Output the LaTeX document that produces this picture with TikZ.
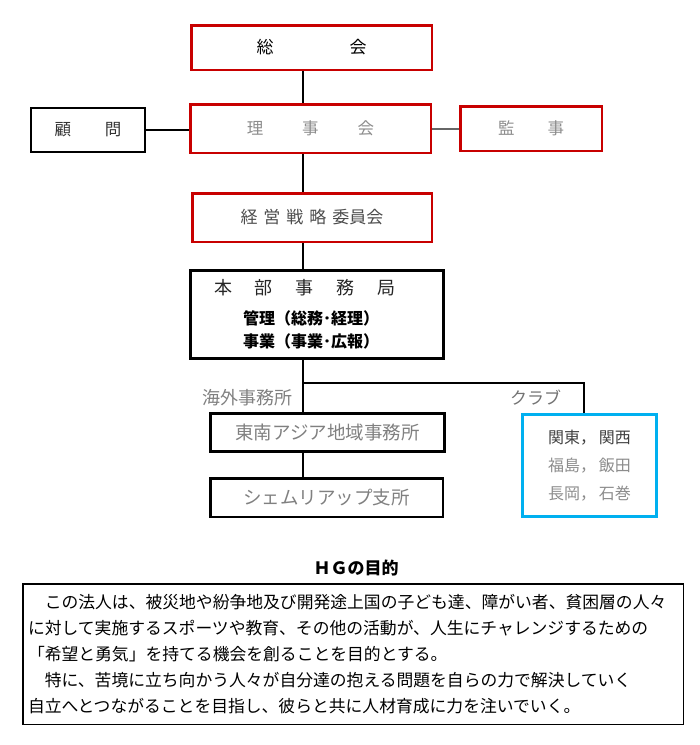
\documentclass[tikz,border=0pt]{standalone}
\usepackage{fontspec}
\setmainfont{Noto Sans CJK JP}
\usetikzlibrary{positioning}
\definecolor{hgred}{RGB}{200,0,0}
\definecolor{hgblue}{RGB}{0,176,240}
\newcommand{\hgsize}[2]{\fontsize{#1}{#2}\selectfont}

\begin{document}
\begin{tikzpicture}[
  x=1pt, y=-1pt,
  box/.style={draw, inner sep=0pt, align=center, font=\hgsize{17pt}{20pt}},
  redbox/.style={box, draw=hgred, line width=2.5pt},
  blkbox/.style={box, draw=black, line width=2.5pt},
  bluebox/.style={box, draw=hgblue, line width=3pt},
  lbl/.style={inner sep=0pt, font=\hgsize{17pt}{20pt}, text=black!50},
  conn/.style={draw=black, line width=1.5pt},
]
\useasboundingbox (0,0) rectangle (700,745);

% governance
\node[redbox, minimum width=240.5pt, minimum height=44.5pt] (soukai) at (311.5,47.5)
  {総\hspace{76pt}会};
\node[redbox, minimum width=240.5pt, minimum height=48.5pt, text=black!45,
  font=\hgsize{16.5pt}{20pt}] (riji) at (310.5,128.5)
  {理\hspace{39pt}事\hspace{39pt}会};
\node[blkbox, line width=2pt, minimum width=114pt, minimum height=44pt,
  text=black!80, font=\hgsize{16.5pt}{20pt}] (komon) at (88,130) {顧\hspace{34pt}問};
\node[redbox, minimum width=141.5pt, minimum height=44.5pt, text=black!45,
  font=\hgsize{16.5pt}{20pt}] (kanji) at (531,128.5) {監\hspace{33pt}事};
\node[redbox, minimum width=239.5pt, minimum height=48.5pt, text=black!70] (keiei) at (312,217.5)
  {経\hspace{6pt}営\hspace{6pt}戦\hspace{6pt}略\hspace{6pt}委員会};

% office
\node[blkbox, line width=3pt, minimum width=253pt, minimum height=88pt,
  font=\hgsize{16pt}{23pt}\bfseries] (honbu) at (317,314.5)
  {\textmd{\hgsize{18pt}{20pt}\color{black!85}本\hspace{23pt}部\hspace{23pt}事\hspace{23pt}務\hspace{23pt}局}\makebox[24pt]{}\\[7pt]
   管理（総務･経理）\makebox[12pt]{}\\事業（事業･広報）\makebox[12pt]{}};
\node[blkbox, line width=3pt, minimum width=234pt, minimum height=38pt,
  text=black!50, font=\hgsize{18.5pt}{20pt}] (asia) at (327.5,432.5) {東南アジア地域事務所};
\node[blkbox, minimum width=232.5pt, minimum height=38.5pt,
  text=black!50, font=\hgsize{18.5pt}{20pt}] (siem) at (326.5,497.5) {シェムリアップ支所};
\node[bluebox, minimum width=134pt, minimum height=102pt, align=left,
  text=black!45, font=\hgsize{16pt}{28pt}] (club) at (589.5,465.5)
  {\textcolor{black!75}{関東，\,関西}\\福島，\,飯田\\長岡，\,石巻};

\node[lbl, font=\hgsize{18pt}{20pt}] (overseas) at (247,398) {海外事務所};
\node[lbl, text=black!55] (clublbl) at (535.5,398) {クラブ};

% connectors
\coordinate (spine) at (303,0);
\coordinate (fork) at (303,383);
\coordinate (clubdrop) at (584,383);
\draw[conn] (soukai.south -| spine) -- (riji.north -| spine);
\draw[conn] (riji.south -| spine) -- (keiei.north -| spine);
\draw[conn] (keiei.south -| spine) -- (honbu.north -| spine);
\draw[conn] (honbu.south -| spine) -- (asia.north -| spine);
\draw[conn] (asia.south -| spine) -- (siem.north -| spine);
\draw[conn] (fork) -- (clubdrop) -- (clubdrop |- club.north);
\draw[conn] (komon.east) -- (komon.east -| riji.west);
\draw[conn, draw=black!60, line width=2pt] (riji.east |- kanji.west) -- (kanji.west);

% purpose
\node[inner sep=0pt, font=\hgsize{17pt}{20pt}\bfseries] (title) at (356,568) {ＨＧの目的};
\node[draw, line width=1.5pt, minimum width=660.5pt, minimum height=140.5pt,
  text width=650pt, inner xsep=5.25pt, align=left, font=\hgsize{16.8pt}{26pt}] (purpose) at (353,654)
  {　この法人は、被災地や紛争地及び開発途上国の子ども達、障がい者、貧困層の人々\\
   に対して実施するスポーツや教育、その他の活動が、人生にチャレンジするための\\
   「希望と勇気」を持てる機会を創ることを目的とする。\\
   　特に、苦境に立ち向かう人々が自分達の抱える問題を自らの力で解決していく\\
   自立へとつながることを目指し、彼らと共に人材育成に力を注いでいく。};
\end{tikzpicture}
\end{document}
